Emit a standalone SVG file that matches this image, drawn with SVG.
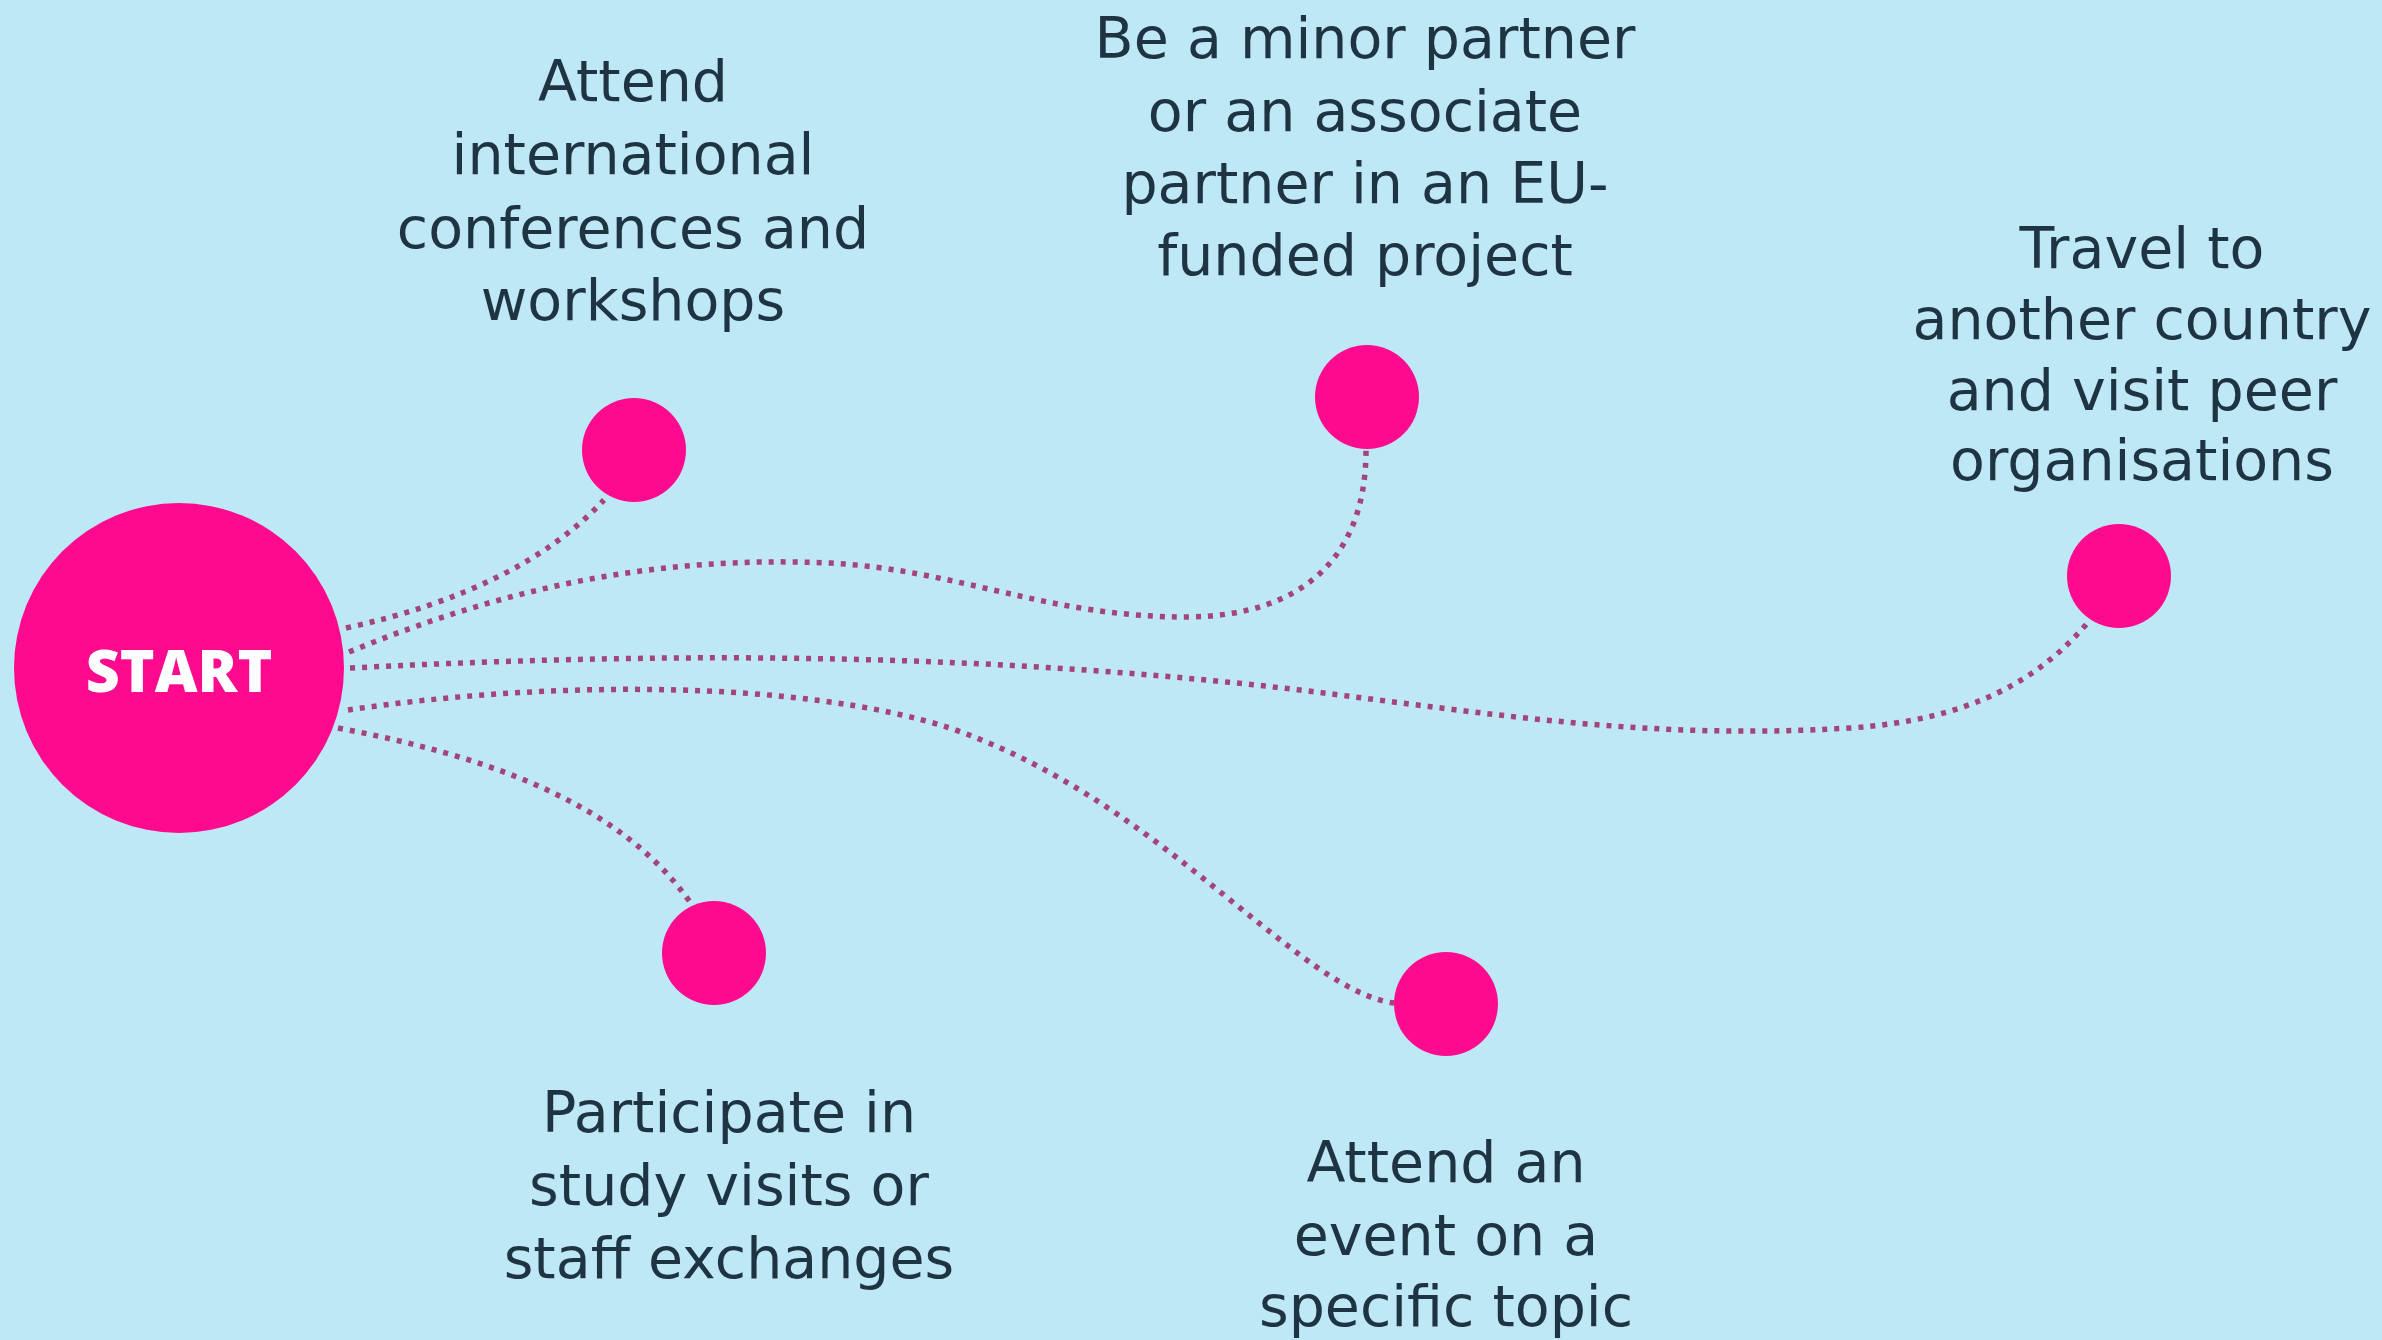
<svg xmlns="http://www.w3.org/2000/svg" width="2382" height="1340" viewBox="0 0 2382 1340">
  <style>
    .bg { fill: #bfe8f7; }
    .dot { fill: #fd0a8e; }
    .link { fill: none; stroke: #a3457a; stroke-width: 5.5; stroke-dasharray: 5 7; }
    .lbl { font-family: "DejaVu Sans", "Open Sans", sans-serif; font-size: 57px; fill: #1e3442; text-anchor: middle; }
    .start { font-family: "Open Sans", "Liberation Sans", sans-serif; font-weight: 800; font-size: 59px; fill: #ffffff; text-anchor: middle; }
  </style>
  <rect class="bg" x="0" y="0" width="2382" height="1340"/>
  <g id="connectors">
    <path class="link" d="M 346 628 Q 520 590 604 500"/>
    <path class="link" d="M 349 652 C 500 590, 650 555, 830 563 C 960 570, 1050 618, 1190 617 C 1300 615, 1366 560, 1366 450"/>
    <path class="link" d="M 350 668 C 700 650, 1000 655, 1300 690 C 1500 715, 1650 740, 1850 728 C 1970 720, 2040 680, 2090 620"/>
    <path class="link" d="M 348 710 C 550 680, 800 680, 950 728 C 1100 780, 1200 880, 1300 955 C 1340 985, 1370 1000, 1394 1003"/>
    <path class="link" d="M 338 728 C 480 755, 620 800, 692 905"/>
  </g>
  <g id="node-start">
    <circle class="dot" cx="179" cy="668" r="165"/>
    <text class="start" x="179" y="692">START</text>
  </g>
  <g id="node-conferences">
    <circle class="dot" cx="634" cy="450" r="52"/>
    <text class="lbl" x="633" y="101">Attend</text>
    <text class="lbl" x="633" y="174">international</text>
    <text class="lbl" x="633" y="248">conferences and</text>
    <text class="lbl" x="633" y="320">workshops</text>
  </g>
  <g id="node-partner">
    <circle class="dot" cx="1367" cy="397" r="52"/>
    <text class="lbl" x="1365" y="58">Be a minor partner</text>
    <text class="lbl" x="1365" y="131">or an associate</text>
    <text class="lbl" x="1365" y="203">partner in an EU-</text>
    <text class="lbl" x="1365" y="275">funded project</text>
  </g>
  <g id="node-travel">
    <circle class="dot" cx="2119" cy="576" r="52"/>
    <text class="lbl" x="2142" y="268">Travel to</text>
    <text class="lbl" x="2142" y="339">another country</text>
    <text class="lbl" x="2142" y="410">and visit peer</text>
    <text class="lbl" x="2142" y="480">organisations</text>
  </g>
  <g id="node-study">
    <circle class="dot" cx="714" cy="953" r="52"/>
    <text class="lbl" x="729" y="1132">Participate in</text>
    <text class="lbl" x="729" y="1205">study visits or</text>
    <text class="lbl" x="729" y="1278">staff exchanges</text>
  </g>
  <g id="node-event">
    <circle class="dot" cx="1446" cy="1004" r="52"/>
    <text class="lbl" x="1446" y="1182">Attend an</text>
    <text class="lbl" x="1446" y="1255">event on a</text>
    <text class="lbl" x="1446" y="1326">specific topic</text>
  </g>
</svg>
